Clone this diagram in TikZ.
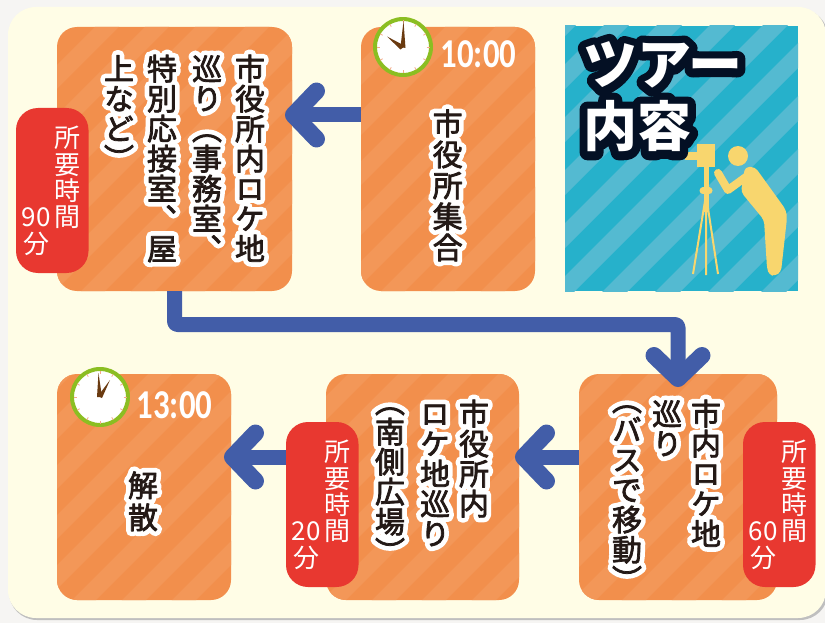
\documentclass[tikz,border=0pt]{standalone}
\usepackage{fontspec}
\usetikzlibrary{arrows.meta,calc}
\newfontfamily\vfont[RawFeature=+vert]{Noto Sans CJK JP}
\newfontfamily\vink[RawFeature=+vert,FakeBold=2.5]{Noto Sans CJK JP}
\newfontfamily\vhalo[RawFeature=+vert,FakeBold=34]{Noto Sans CJK JP}
\newfontfamily\hfont{Noto Sans CJK JP}
\newfontfamily\hhalo[FakeBold=30]{Noto Sans CJK JP}
\newfontfamily\timefont{Carlito}
\definecolor{paper}{RGB}{246,245,243}
\definecolor{cream}{RGB}{255,253,230}
\definecolor{boxor}{RGB}{242,143,76}
\definecolor{boxst}{RGB}{243,151,88}
\definecolor{tealb}{RGB}{38,177,203}
\definecolor{tealst}{RGB}{84,186,209}
\definecolor{tagred}{RGB}{232,56,48}
\definecolor{arrowb}{RGB}{66,93,168}
\definecolor{ringg}{RGB}{139,190,34}
\definecolor{handb}{RGB}{106,58,16}
\definecolor{tickc}{RGB}{244,170,140}
\definecolor{figy}{RGB}{248,214,110}
\definecolor{inkd}{RGB}{35,25,22}
\definecolor{titled}{RGB}{4,16,36}
\makeatletter
\newlength\vpitch
\newcommand\vcells[2]{\setlength\vpitch{#1pt}\vbox{\offinterlineskip\@tfor\vx:=#2\do{\hbox to\vpitch{\rule{0pt}{.86\vpitch}\rule[-.14\vpitch]{0pt}{.14\vpitch}\hss\vx\hss}}}}
\makeatother
\newcommand\vhalotext[2][30]{\fontsize{30}{30}\selectfont\rlap{\color{white}\vhalo\vcells{#1}{#2}}{\color{inkd}\vink\vcells{#1}{#2}}}
\newcommand\titletext[1]{\fontsize{54}{54}\selectfont\bfseries\rlap{\color{titled}\hhalo #1}{\color{white}\hfont #1}}
\tikzset{
  x=1pt,y=-1pt,
  stripes/.style n args={5}{fill=#1,path picture={
    \pgfmathsetmacro\sbase{400+mod(#4,#3)}
    \foreach \k in {-20,...,8}{
      \pgfmathsetmacro\xk{\sbase+\k*#3}
      \fill[#2,sharp corners] (\xk,-400)--(\xk+#5,-400)--(\xk+#5-800,400)--(\xk-800,400)--cycle;}}},
  stripebox/.style={rounded corners=20pt,minimum width=#1,inner sep=0pt,outer sep=0pt},
  orbox/.style={stripes={boxor}{boxst}{50}{672-(#1)}{24}},
  tagbox/.style={fill=tagred,rounded corners=22pt,minimum width=72.5pt,minimum height=165pt,inner sep=0pt,outer sep=0pt},
  tagcol/.style={inner sep=0pt,text=white,font=\vfont\fontsize{26}{26}\selectfont},
  tagnum/.style={inner sep=0pt,text=white,align=center,font=\hfont\fontsize{26}{27}\selectfont},
  vcol/.style={inner sep=0pt,anchor=north},
  timetxt/.style={inner sep=0pt,text=white,font=\timefont\bfseries\fontsize{41}{41}\selectfont,xscale=.8},
  flow/.style={draw=arrowb,line width=15pt,-{Straight Barb[length=23pt,width=48pt,line width=17pt,round]}},
  ticks/.style={tickc,line width=.8pt}
}
\newcommand\clockface[3]{%
  \node[circle,draw=ringg,fill=white,line width=4pt,minimum size=56pt,inner sep=0pt] (#3) at (#1,#2) {};
  \foreach \a in {0,30,...,330}{\draw[ticks] ($(#3)+(\a:23.5pt)$) -- ($(#3)+(\a:26.5pt)$);}
}
\begin{document}
\begin{tikzpicture}[line join=round]
\useasboundingbox (0,0) rectangle (825,623);
\fill[paper] (0,0) rectangle (825,623);
\fill[black!25,rounded corners=28pt] (9,9) rectangle (828,620);
\fill[cream,rounded corners=28pt] (8,7) rectangle (826,618);
% boxes
\node[stripebox=235pt,orbox=333.5,minimum height=264pt] (A) at (174.5,159) {};
\node[stripebox=174pt,orbox=607,minimum height=264pt] (B) at (448,159) {};
\node[stripebox=174pt,orbox=631,minimum height=226pt] (C) at (144,487) {};
\node[stripebox=193pt,orbox=909.5,minimum height=226pt] (D) at (422.5,487) {};
\node[stripebox=198pt,orbox=1165,minimum height=226pt] (E) at (678,487) {};
% teal panel
\node[minimum width=233pt,minimum height=265pt,inner sep=0pt,outer sep=0pt,stripes={tealb}{tealst}{53}{735-840}{25}] (P) at (681.5,158.5) {};
% figure
\fill[figy] (697,144) rectangle (715,167);
\fill[figy] (685,152) rectangle (697,160);
\draw[figy,line width=2pt] (706,195) -- (693,274) (706,195) -- (706,275) (706,195) -- (718,274);
\draw[figy,line width=5pt] (706,167) -- (706,212);
\draw[figy,line width=7pt,line cap=round] (703,191) -- (709,191);
\fill[figy] (738,156) circle (10);
\draw[figy,line width=8pt,line cap=round] (718,173) -- (728,190) -- (750,174);
\fill[figy,rounded corners=4pt] (745,167) -- (755,167) -- (763,178) -- (786,210) -- (787,218) -- (781,272) -- (775,276) -- (769,275) -- (767,268) -- (764,220) -- (741,192) -- cycle;
% connectors
\draw[flow,shorten >=-7pt] ([yshift=44pt]B.west) -- ([yshift=44pt]A.east);
\draw[flow,shorten >=-13pt,rounded corners=3pt] (A.south) -- ++(0,33.5) -| (E.north);
\draw[flow,shorten >=-4pt] ([yshift=30pt]E.west) -- ([yshift=30pt]D.east);
\draw[flow,shorten >=-7pt] ([yshift=30pt]D.west) -- ([yshift=30pt]C.east);
% clocks
\clockface{403}{47}{K1}
\fill[handb] (400.5,47) -- (403.5,21) -- (405.5,48) -- cycle;
\fill[handb] (405,46) -- (387,36.5) -- (400.5,49.5) -- cycle;
\clockface{100}{397}{K2}
\fill[handb] (97,397) -- (98.5,373) -- (102,397) -- cycle;
\fill[handb] (98,396) -- (110,380) -- (102,398) -- cycle;
% time labels
\node[timetxt] (T1) at (478.5,54) {10:00};
\node[timetxt] (T2) at (174.5,405) {13:00};
% main texts
\node[vcol] (a1) at (250,54) {\vhalotext{市役所内ロケ地}};
\node[vcol] (a2) at (207,54) {\vhalotext{巡り（事務室、}};
\node[vcol] (a3) at (162,54) {\vhalotext{特別応接室、屋}};
\node[vcol] (a4) at (119,54) {\vhalotext{上など）}};
\node[vcol] (b1) at (447.7,108) {\vhalotext[31]{市役所集合}};
\node[vcol] (c1) at (143,469) {\vhalotext[32]{解散}};
\node[vcol] (d1) at (474,399) {\vhalotext{市役所内}};
\node[vcol] (d2) at (435,399) {\vhalotext{ロケ地巡り}};
\node[vcol] (d3) at (390,387) {\vhalotext{（南側広場）}};
\node[vcol] (e1) at (706,399) {\vhalotext{市内ロケ地}};
\node[vcol] (e2) at (667,399) {\vhalotext{巡り}};
\node[vcol] (e3) at (627,385) {\vhalotext{（バスで移動）}};
% tags
\node[tagbox] (t1) at (52.25,190.5) {};
\node[tagbox] (t2) at (322.25,504.5) {};
\node[tagbox] (t3) at (779.25,504.5) {};
\node[tagcol,anchor=north] (t1a) at (67.5,125) {\vcells{26.3}{所要時間}};
\node[tagnum] (t1b) at (36,232) {90\\分};
\node[tagcol,anchor=north] (t2a) at (337.5,439) {\vcells{26.3}{所要時間}};
\node[tagnum] (t2b) at (306,546) {20\\分};
\node[tagcol,anchor=north] (t3a) at (794.5,439) {\vcells{26.3}{所要時間}};
\node[tagnum] (t3b) at (763,546) {60\\分};
% title
\node[inner sep=0pt,anchor=base west] (h1) at (583,85) {\titletext{ツアー}};
\node[inner sep=0pt,anchor=base west] (h2) at (583,147) {\titletext{内容}};
\end{tikzpicture}
\end{document}
